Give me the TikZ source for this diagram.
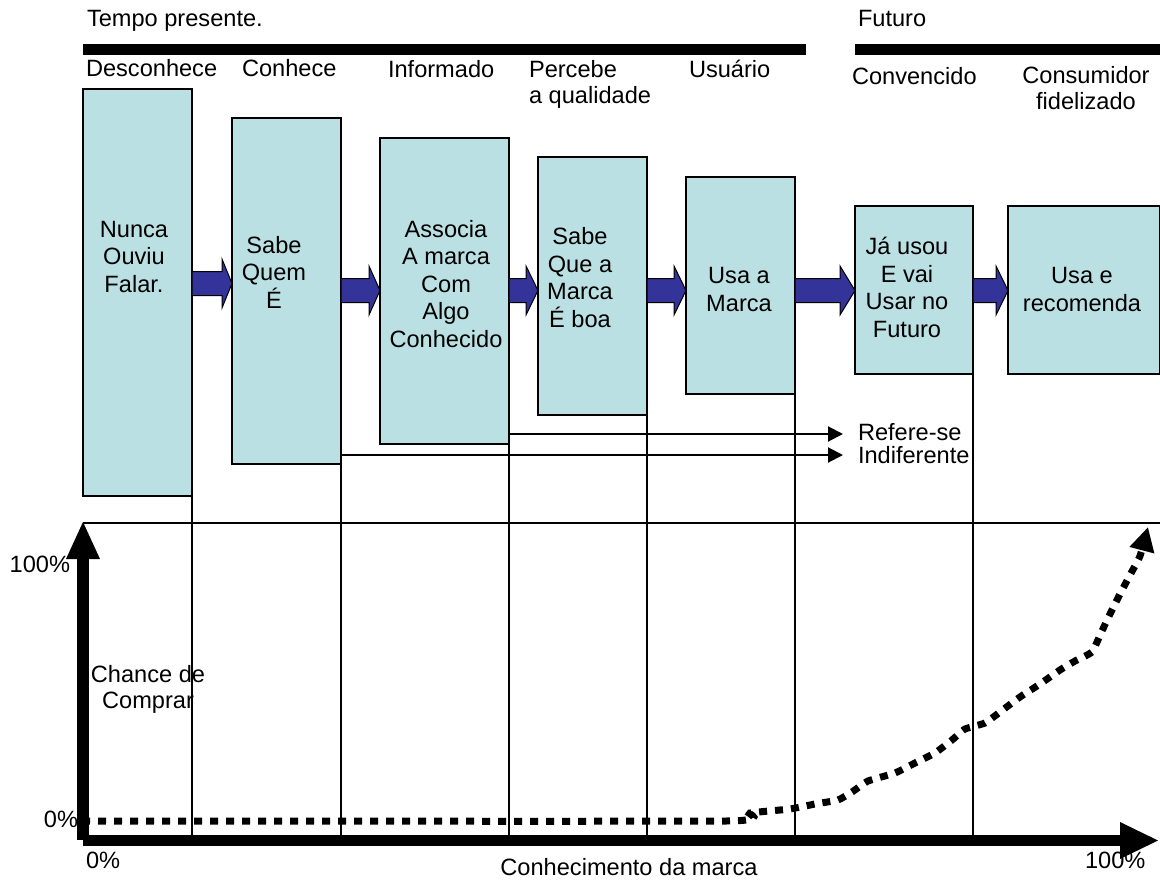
\documentclass[tikz,border=0pt]{standalone}
\usepackage{fontspec}
\setmainfont{Liberation Sans}
\usetikzlibrary{arrows.meta,calc}
\definecolor{boxfill}{RGB}{187,224,227}
\definecolor{arrowblue}{RGB}{51,51,153}
\newcommand\mkblockarrow[4]{%
  \path (#1.east |- 0,#3) coordinate (bs) (#2.west |- 0,#3) coordinate (bt);
  \draw[blockarrow] ($(bs)+(0,-12)$) -- ($(bt)+(-#4,-12)$) -- ($(bt)+(-#4,-24.5)$) -- (bt)
    -- ($(bt)+(-#4,24.5)$) -- ($(bt)+(-#4,12)$) -- ($(bs)+(0,12)$) -- cycle;}
\begin{document}
\begin{tikzpicture}[x=0.5pt,y=-0.5pt,
  box/.style={draw=black, line width=0.75pt, fill=boxfill, inner sep=0pt, outer sep=0pt},
  blockarrow/.style={fill=arrowblue, draw=black, line width=0.5pt, line join=miter},
  lbl/.style={inner sep=0pt, outer sep=0pt, font=\fontsize{11.8}{13}\selectfont},
  lblw/.style={lbl, anchor=base west},
  boxtxt/.style={inner sep=0pt, align=center, font=\fontsize{11.8}{13.75}\selectfont, anchor=base},
  vline/.style={line width=1pt},
  bar/.style={line width=5.5pt},
  thinarrow/.style={line width=1pt, -{Triangle[length=7.5pt,width=7.5pt]}},
  curve/.style={line width=3.5pt, dash pattern=on 4pt off 4pt, -{Triangle[length=12pt,width=12pt]}}
]
\useasboundingbox (0,0) rectangle (1160,882);

% top labels and bars
\node[lblw] (tp) at (87,27) {Tempo presente.};
\node[lblw] (fu) at (858,27) {Futuro};
\coordinate (bar1a) at (83,49.5); \coordinate (bar1b) at (806,49.5);
\coordinate (bar2a) at (855,49.5); \coordinate (bar2b) at (1160,49.5);
\draw[bar] (bar1a) -- (bar1b);
\draw[bar] (bar2a) -- (bar2b);

\node[lblw] (h1) at (86,77) {Desconhece};
\node[lblw] (h2) at (242,77) {Conhece};
\node[lblw] (h3) at (388,78) {Informado};
\node[lblw, align=left] (h4) at (529,104) {Percebe\\a qualidade};
\node[lblw] (h5) at (689,78) {Usuário};
\node[lblw] (h6) at (852,85) {Convencido};
\node[lbl, anchor=base, align=center] (h7) at (1086,110) {Consumidor\\fidelizado};

% boxes
\node[box, minimum width=54.5pt, minimum height=203.5pt] (b1) at (137.5,292.5) {};
\node[box, minimum width=54.5pt, minimum height=173pt] (b2) at (286.5,291) {};
\node[box, minimum width=64.5pt, minimum height=153pt] (b3) at (444.5,291) {};
\node[box, minimum width=54.5pt, minimum height=129pt] (b4) at (592.5,286) {};
\node[box, minimum width=54.5pt, minimum height=108.5pt] (b5) at (740.5,285.5) {};
\node[box, minimum width=59pt, minimum height=84pt] (b6) at (914,290) {};
\node[box, minimum width=76pt, minimum height=84pt] (b7) at (1084,290) {};

% box texts (anchor = baseline of last line)
\node[boxtxt] (t1) at (134,292) {Nunca\\Ouviu\\Falar.};
\node[boxtxt] (t2) at (274,308) {Sabe\\Quem\\É};
\node[boxtxt] (t3) at (446,347) {Associa\\A marca\\Com\\Algo\\Conhecido};
\node[boxtxt] (t4) at (580,327) {Sabe\\Que a\\Marca\\É boa};
\node[boxtxt] (t5) at (739,311) {Usa a\\Marca};
\node[boxtxt] (t6) at (907,337) {Já usou\\E vai\\Usar no\\Futuro};
\node[boxtxt] (t7) at (1082,311) {Usa e\\recomenda};

% block arrows
\mkblockarrow{b1}{b2}{283.5}{10}
\mkblockarrow{b2}{b3}{290.5}{11}
\mkblockarrow{b3}{b4}{290.5}{12}
\mkblockarrow{b4}{b5}{290.5}{12}
\mkblockarrow{b5}{b6}{290.5}{15}
\mkblockarrow{b6}{b7}{290.5}{12}

% chart frame
\coordinate (ytop) at (83,522);
\coordinate (frR) at (1160,523);
\draw[line width=1pt] (ytop |- frR) -- (frR);

% vertical guide lines
\foreach \b in {b1,b2,b3,b4,b5,b6}
  \draw[vline] (\b.south east) -- (\b.south east |- 0,835);

% thin arrows
\node[lblw] (ref) at (858,440) {Refere-se};
\node[lblw] (ind) at (858,463) {Indiferente};
\coordinate (refend) at (843,434);
\coordinate (indend) at (843,455);
\draw[thinarrow] (b3.east |- refend) -- (refend);
\draw[thinarrow] (b2.east |- indend) -- (indend);

% axes
\fill (77,840) rectangle (89,558);
\fill (66,559) -- (ytop) -- (100,559) -- cycle;
\coordinate (xtip) at (1158,840.5);
\fill (83,835) rectangle (1121,846);
\fill (1120,822) -- (xtip) -- (1120,859) -- cycle;

% axis labels
\node[lbl, anchor=base east] (y100) at (70,572) {100\%};
\node[lbl, anchor=base east] (y0) at (78,827) {0\%};
\node[lblw] (x0) at (86,868) {0\%};
\node[lblw] (x100) at (1085,868) {100\%};
\node[lbl, anchor=base] (xl) at (629,875) {Conhecimento da marca};
\node[lbl, anchor=base, align=center] (yl) at (148,708) {Chance de\\Comprar};

% dotted curve
\draw[curve] plot[smooth, tension=0.25] coordinates {
  (82,821) (726,821) (750,813) (790,809) (815,804) (838,800) (852,792)
  (868,781) (895,773) (915,763) (935,753) (952,740) (965,729) (985,723) (1000,712)
  (1020,697) (1040,684) (1060,670) (1075,661) (1092,652) (1101,633) (1110,614)
  (1120,594) (1130,575) (1140,556) (1148,527)};
\end{tikzpicture}
\end{document}
